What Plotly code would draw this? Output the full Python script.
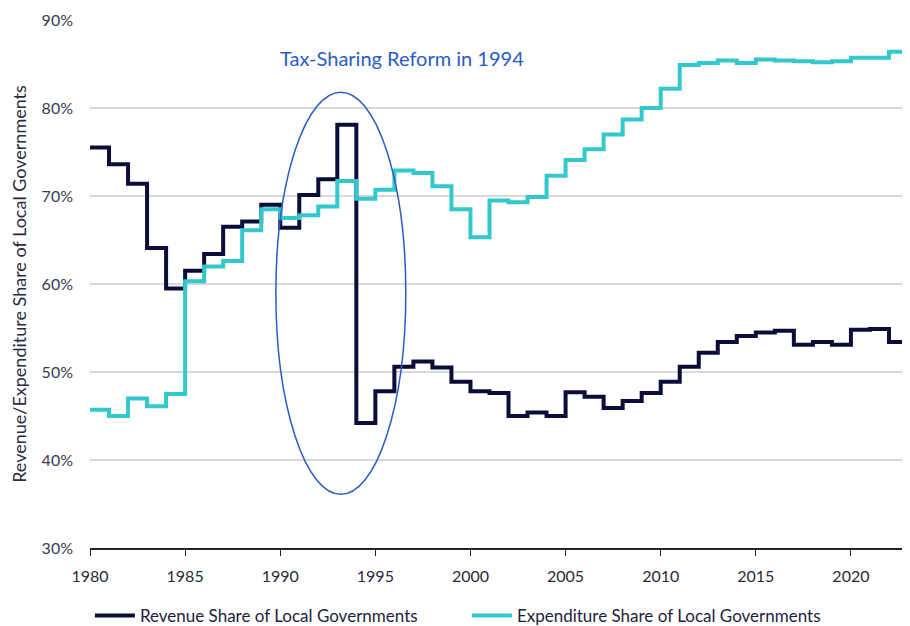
import plotly.graph_objects as go

years = list(range(1980, 2024))

revenue_share = [
    75.5, 73.6, 71.4, 64.1, 59.5, 61.5, 63.4, 66.5, 67.1, 69.0,
    66.4, 70.1, 71.9, 78.1, 44.2, 47.8, 50.6, 51.2, 50.5, 48.9,
    47.8, 47.6, 45.0, 45.4, 45.0, 47.7, 47.2, 45.9, 46.7, 47.6,
    48.9, 50.6, 52.2, 53.4, 54.1, 54.5, 54.7, 53.1, 53.4, 53.1,
    54.8, 54.9, 53.4, 54.2,
]

expenditure_share = [
    45.7, 45.0, 47.0, 46.1, 47.5, 60.3, 62.0, 62.6, 66.1, 68.5,
    67.5, 67.8, 68.8, 71.7, 69.7, 70.7, 72.9, 72.6, 71.1, 68.5,
    65.3, 69.5, 69.3, 69.9, 72.3, 74.1, 75.3, 77.0, 78.7, 80.0,
    82.2, 84.9, 85.1, 85.4, 85.1, 85.5, 85.4, 85.3, 85.2, 85.3,
    85.7, 85.7, 86.4, 86.0,
]

series_names = ["Revenue Share of Local Governments", "Expenditure Share of Local Governments"]
series_colors = ["#0c0c38", "#33c8cc"]

y_ticks = [30, 40, 50, 60, 70, 80, 90]
y_tick_labels = ["30%", "40%", "50%", "60%", "70%", "80%", "90%"]
x_ticks = [1980, 1985, 1990, 1995, 2000, 2005, 2010, 2015, 2020]

annotation_text = "Tax-Sharing Reform in 1994"
reform_window = dict(x0=1989.77, x1=1996.6, y0=36.1, y1=81.8)

FONT = "Lato, 'Source Sans Pro', 'Open Sans', sans-serif"

fig = go.Figure()
for name, vals, col in zip(series_names, [revenue_share, expenditure_share], series_colors):
    fig.add_trace(go.Scatter(
        x=years, y=vals, name=name, mode="lines",
        line=dict(color=col, width=4, shape="hv"),
    ))

fig.add_shape(type="circle", xref="x", yref="y",
              x0=reform_window["x0"], x1=reform_window["x1"],
              y0=reform_window["y0"], y1=reform_window["y1"],
              line=dict(color="#2a5cc4", width=1.5))

fig.add_annotation(x=1996.4, y=85.7, xref="x", yref="y", text=annotation_text,
                   showarrow=False, font=dict(family=FONT, size=20, color="#2a5cc4"))

fig.update_layout(
    width=910, height=626,
    margin=dict(l=82, r=10, t=12, b=86, autoexpand=False),
    paper_bgcolor="white", plot_bgcolor="white",
    font=dict(family=FONT, size=16, color="#3a3a50"),
    showlegend=True,
    legend=dict(orientation="h", xref="container", x=0.09, xanchor="left",
                yref="container", y=0.0, yanchor="bottom",
                font=dict(size=17, color="#1e1e3c"), itemwidth=40,
                entrywidth=322, traceorder="normal"),
)

fig.update_xaxes(
    range=[1980, 2023], tickvals=x_ticks, ticks="outside", ticklen=6,
    tickcolor="#222", showline=True, linecolor="#222", linewidth=1.5,
    showgrid=False, zeroline=False, automargin=False, ticklabelstandoff=7,
    tickfont=dict(size=16, color="#2a2a3a"),
)
fig.update_yaxes(
    range=[30, 90], tickvals=y_ticks, ticktext=y_tick_labels, showgrid=True,
    gridcolor="#d5d9e0", gridwidth=1.5, zeroline=False, showline=False,
    ticklabelstandoff=16, automargin=False,
    tickfont=dict(size=16, color="#3a3a50"),
    title=dict(text="Revenue/Expenditure Share of Local Governments",
               font=dict(size=18, color="#2a2a44"), standoff=12),
)

fig.write_html("out.html")
